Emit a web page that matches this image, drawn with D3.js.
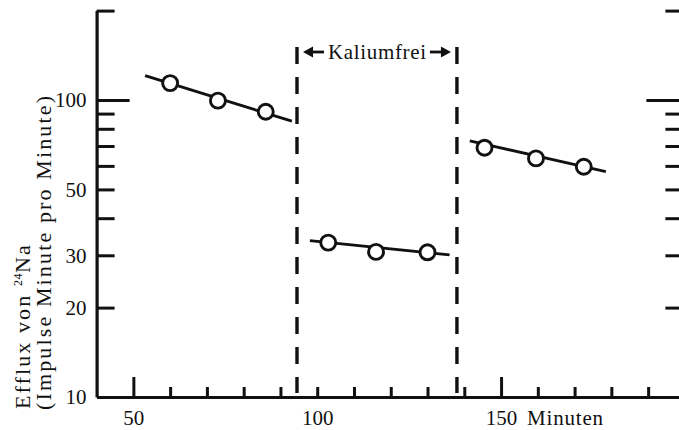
<!DOCTYPE html>
<html>
<head>
<meta charset="utf-8">
<script src="https://cdn.jsdelivr.net/npm/d3@7"></script>
<style>
  html, body { margin: 0; padding: 0; background: #fff; }
  svg { display: block; }
  text { font-family: "Liberation Serif", "DejaVu Serif", serif; fill: #111; }
</style>
</head>
<body>
<svg id="chart" width="679" height="430"></svg>
<script>
// Measurements: time in minutes, efflux in counts per minute
const controlTimes  = [60, 73, 86];
const controlValues = [114, 99.5, 91.3];
const kFreeTimes    = [103, 116, 130];
const kFreeValues   = [33.1, 30.8, 30.7];
const recoveryTimes  = [145.5, 159.5, 172.5];
const recoveryValues = [69.1, 63.6, 59.6];

// Fitted regression lines (start and end of each segment)
const controlFitTimes   = [53.2, 93.1];
const controlFitValues  = [120.7, 84.9];
const kFreeFitTimes     = [98, 136];
const kFreeFitValues    = [33.6, 30.1];
const recoveryFitTimes  = [141.5, 178.5];
const recoveryFitValues = [72.8, 57.4];

// Potassium-free period boundaries
const kFreeBounds = [94.5, 138];

// Axis ticks
const yMajorTicks = [100];
const yMinorTicks = [20, 30, 40, 50, 60, 70, 80, 90, 200];
const yLabelTicks = [10, 20, 30, 50, 100];
const xMajorTicks = [50, 150];
const xMinorTicks = [60, 70, 80, 90, 100, 110, 120, 130, 140, 160, 170, 180, 190];
const xLabelTicks = [50, 100, 150];

const svg = d3.select("#chart");
const ink = "#111";
const fontSize = 21;

const x = d3.scaleLinear().domain([40, 200]).range([96.6, 684.9]);
const y = d3.scaleLog().domain([10, 200]).range([397, 10.6]);

function styleAxis(g, width) {
  g.selectAll(".domain").attr("stroke", ink).attr("stroke-width", width);
  g.selectAll(".tick line").attr("stroke", ink).attr("stroke-width", 3);
}
function styleLabels(g) {
  g.select(".domain").remove();
  g.selectAll("text").attr("font-size", fontSize).attr("fill", ink)
    .attr("font-family", '"Liberation Serif", serif');
}

// Left axis
const leftX = x(40);
svg.append("g").attr("transform", `translate(${leftX},0)`)
  .call(d3.axisRight(y).tickValues(yMinorTicks).tickSize(18).tickSizeOuter(0).tickFormat(""))
  .call(g => styleAxis(g, 3.2));
svg.append("g").attr("transform", `translate(${leftX},0)`)
  .call(d3.axisRight(y).tickValues(yMajorTicks).tickSize(33).tickSizeOuter(0).tickFormat(""))
  .call(g => { g.select(".domain").remove(); styleAxis(g, 3); });
svg.append("g").attr("transform", `translate(${leftX},0)`)
  .call(d3.axisLeft(y).tickValues(yLabelTicks).tickSize(0).tickPadding(10).tickFormat(d3.format("d")))
  .call(styleLabels);

// Right axis (ticks only; its spine lies just past the edge)
const rightX = x(200) - 1.5;
svg.append("g").attr("transform", `translate(${rightX},0)`)
  .call(d3.axisLeft(y).tickValues(yMinorTicks).tickSize(18).tickSizeOuter(0).tickFormat(""))
  .call(g => styleAxis(g, 3));
svg.append("g").attr("transform", `translate(${rightX},0)`)
  .call(d3.axisLeft(y).tickValues(yMajorTicks).tickSize(37).tickSizeOuter(0).tickFormat(""))
  .call(g => { g.select(".domain").remove(); styleAxis(g, 3); });

// Bottom axis
const baseY = y(10);
svg.append("g").attr("transform", `translate(0,${baseY})`)
  .call(d3.axisTop(x).tickValues(xMinorTicks).tickSize(10).tickSizeOuter(0).tickFormat(""))
  .call(g => styleAxis(g, 3.2));
svg.append("g").attr("transform", `translate(0,${baseY})`)
  .call(d3.axisTop(x).tickValues(xMajorTicks).tickSize(20).tickSizeOuter(0).tickFormat(""))
  .call(g => { g.select(".domain").remove(); styleAxis(g, 3); });
svg.append("g").attr("transform", `translate(0,${baseY})`)
  .call(d3.axisBottom(x).tickValues(xLabelTicks).tickSize(0).tickPadding(13).tickFormat(d3.format("d")))
  .call(styleLabels);
svg.append("text")
  .attr("x", x(150) + 26).attr("y", baseY + 28)
  .attr("font-size", fontSize).attr("letter-spacing", 0.8)
  .text("Minuten");

// Y axis title (two rotated lines)
const title = svg.append("text")
  .attr("transform", "translate(30,409) rotate(-90)")
  .attr("font-size", 22).attr("letter-spacing", 2.1);
title.append("tspan").text("Efflux von ");
title.append("tspan").attr("dy", -8).attr("font-size", 12).attr("letter-spacing", 0.5).text("24");
title.append("tspan").attr("dy", 8).text("Na");
svg.append("text")
  .attr("transform", "translate(51,410) rotate(-90)")
  .attr("font-size", 22)
  .attr("textLength", 314).attr("lengthAdjust", "spacing")
  .text("(Impulse Minute pro Minute)");

// Potassium-free boundaries
svg.selectAll("line.bound").data(kFreeBounds).enter().append("line")
  .attr("class", "bound")
  .attr("x1", d => x(d)).attr("x2", d => x(d))
  .attr("y1", 47).attr("y2", 393)
  .attr("stroke", ink).attr("stroke-width", 3.4)
  .attr("stroke-dasharray", "17,13");

// Kaliumfrei label with arrows
const midY = 52;
const lx = x(kFreeBounds[0]), rx = x(kFreeBounds[1]);
svg.append("path")
  .attr("d", `M${lx + 6},${midY} L${lx + 16},${midY - 5.5} L${lx + 16},${midY + 5.5} Z`)
  .attr("fill", ink);
svg.append("line").attr("x1", lx + 14).attr("x2", lx + 27).attr("y1", midY).attr("y2", midY)
  .attr("stroke", ink).attr("stroke-width", 2.8);
svg.append("path")
  .attr("d", `M${rx - 6},${midY} L${rx - 16},${midY - 5.5} L${rx - 16},${midY + 5.5} Z`)
  .attr("fill", ink);
svg.append("line").attr("x1", rx - 14).attr("x2", rx - 27).attr("y1", midY).attr("y2", midY)
  .attr("stroke", ink).attr("stroke-width", 2.8);
svg.append("text")
  .attr("x", lx + 31).attr("y", midY + 7)
  .attr("font-size", fontSize)
  .attr("textLength", 98).attr("lengthAdjust", "spacing")
  .text("Kaliumfrei");

// Fitted lines and measured points
const series = [
  { times: controlTimes, values: controlValues, ft: controlFitTimes, fv: controlFitValues },
  { times: kFreeTimes, values: kFreeValues, ft: kFreeFitTimes, fv: kFreeFitValues },
  { times: recoveryTimes, values: recoveryValues, ft: recoveryFitTimes, fv: recoveryFitValues }
];
const line = d3.line().x(d => x(d[0])).y(d => y(d[1]));

series.forEach(s => {
  svg.append("path")
    .attr("d", line(s.ft.map((t, i) => [t, s.fv[i]])))
    .attr("fill", "none").attr("stroke", ink).attr("stroke-width", 2.9);
  svg.selectAll(null).data(s.times.map((t, i) => [t, s.values[i]])).enter()
    .append("circle")
    .attr("cx", d => x(d[0])).attr("cy", d => y(d[1])).attr("r", 7.5)
    .attr("fill", "#fff").attr("stroke", ink).attr("stroke-width", 2.9);
});
</script>
</body>
</html>
